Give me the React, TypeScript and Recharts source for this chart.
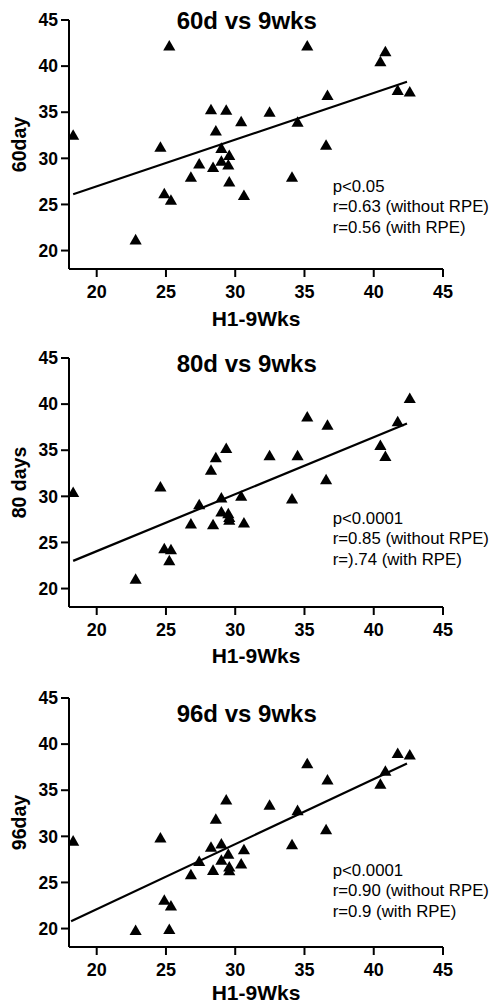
import React from 'react';
import { ScatterChart, Scatter, XAxis, YAxis, ZAxis } from 'recharts';

// H1-9Wks values (shared x for all three panels)
const H1_9WKS = [
  18.3, 22.81, 24.6, 24.88, 25.24, 25.36, 26.8, 27.4, 28.25, 28.4,
  28.6, 29.0, 29.0, 29.35, 29.5, 29.57, 29.57, 30.43, 30.63, 32.48,
  34.1, 34.5, 35.2, 36.56, 36.66, 40.48, 40.84, 41.73, 42.6,
];

const DAY60 = [
  32.4, 21.05, 31.1, 26.06, 42.06, 25.34, 27.83, 29.28, 35.16, 28.9,
  32.85, 30.97, 29.57, 35.1, 29.17, 30.2, 27.33, 33.86, 25.85, 34.9,
  27.83, 33.8, 42.06, 31.3, 36.7, 40.36, 41.44, 37.26, 37.08,
];

const DAY80 = [
  30.3, 20.9, 30.9, 24.2, 22.9, 24.1, 26.9, 28.97, 32.73, 26.8,
  34.07, 29.7, 28.2, 35.08, 28.0, 27.6, 27.3, 29.9, 27.0, 34.3,
  29.6, 34.3, 38.5, 31.7, 37.6, 35.4, 34.2, 37.97, 40.5,
];

const DAY96 = [
  29.37, 19.68, 29.7, 22.95, 19.78, 22.34, 25.73, 27.17, 28.7, 26.2,
  31.75, 29.05, 27.3, 33.84, 27.96, 26.56, 26.16, 26.9, 28.43, 33.26,
  28.97, 32.68, 37.77, 30.6, 36.0, 35.53, 36.94, 38.88, 38.7,
];

// regression line end points [x0, x1] and fitted [y0, y1]
const FIT_X60 = [18.3, 42.4];
const FIT_Y60 = [26.1, 38.3];
const FIT_X80 = [18.3, 42.4];
const FIT_Y80 = [23.0, 37.9];
const FIT_X96 = [18.15, 42.4];
const FIT_Y96 = [20.8, 37.9];

const TICKS = [20, 25, 30, 35, 40, 45];
const DOMAIN: [number, number] = [18, 45];

const TITLES = ['60d vs 9wks', '80d vs 9wks', '96d vs 9wks'];
const Y_LABELS = ['60day', '80 days', '96day'];
const X_LABEL = 'H1-9Wks';
const ANNOTATIONS = [
  ['p<0.05', 'r=0.63 (without RPE)', 'r=0.56 (with RPE)'],
  ['p<0.0001', 'r=0.85 (without RPE)', 'r=).74 (with RPE)'],
  ['p<0.0001', 'r=0.90 (without RPE)', 'r=0.9 (with RPE)'],
];

const FONT = 'Arial, "Liberation Sans", Helvetica, sans-serif';

const toPoints = (xs: number[], ys: number[]) => xs.map((x, i) => ({ x, y: ys[i] }));

type PanelProps = {
  top: number;
  height: number;
  plotTop: number;
  plotBottom: number;
  ys: number[];
  fitX: number[];
  fitY: number[];
};

function Panel({ top, height, plotTop, plotBottom, ys, fitX, fitY }: PanelProps) {
  const data = toPoints(H1_9WKS, ys);
  const fit = toPoints(fitX, fitY);
  return (
    <div style={{ position: 'absolute', left: 0, top, width: 493, height }}>
      <ScatterChart
        width={493}
        height={height}
        margin={{ top: plotTop, right: 50, bottom: 0, left: 0 }}
      >
        <XAxis
          type="number"
          dataKey="x"
          domain={DOMAIN}
          ticks={TICKS}
          allowDataOverflow
          height={height - plotBottom}
          tickSize={8}
          tickMargin={8}
          axisLine={{ stroke: '#000', strokeWidth: 2 }}
          tickLine={{ stroke: '#000', strokeWidth: 2 }}
          tick={{ fill: '#000', fontSize: 18, fontWeight: 'bold', fontFamily: FONT }}
        />
        <YAxis
          type="number"
          dataKey="y"
          domain={DOMAIN}
          ticks={TICKS}
          allowDataOverflow
          width={69}
          tickSize={8}
          tickMargin={3}
          axisLine={{ stroke: '#000', strokeWidth: 2 }}
          tickLine={{ stroke: '#000', strokeWidth: 2 }}
          tick={{ fill: '#000', fontSize: 17.5, fontWeight: 'bold', fontFamily: FONT }}
        />
        <ZAxis range={[52, 52]} />
        <Scatter
          data={fit}
          line={{ stroke: '#000', strokeWidth: 2.2 }}
          shape={() => <g />}
          isAnimationActive={false}
          legendType="none"
        />
        <Scatter
          data={data}
          shape="triangle"
          fill="#000"
          isAnimationActive={false}
        />
      </ScatterChart>
    </div>
  );
}

const PANELS = [
  { top: 0, height: 335, plotTop: 20, plotBottom: 269, ys: DAY60, fitX: FIT_X60, fitY: FIT_Y60 },
  { top: 330, height: 340, plotTop: 28, plotBottom: 277, ys: DAY80, fitX: FIT_X80, fitY: FIT_Y80 },
  { top: 660, height: 347, plotTop: 38, plotBottom: 287, ys: DAY96, fitX: FIT_X96, fitY: FIT_Y96 },
];

// absolute text positions (page coordinates)
const TITLE_BASE = [28.5, 371.8, 721.8];
const YLABEL_CENTER = [144.5, 482.5, 822.5];
const XLABEL_BASE = [326, 663, 1000];
const ANNOT_BASE = [192, 524, 876];

export default function App() {
  return (
    <div style={{ position: 'absolute', left: 0, top: 0, width: 493, height: 1007, background: '#fff' }}>
      {PANELS.map((p, i) => (
        <Panel key={i} {...p} />
      ))}
      <svg
        width={493}
        height={1007}
        style={{ position: 'absolute', left: 0, top: 0, pointerEvents: 'none' }}
      >
        {TITLES.map((t, i) => (
          <text
            key={'t' + i}
            x={246.7}
            y={TITLE_BASE[i]}
            textAnchor="middle"
            fontFamily={FONT}
            fontWeight="bold"
            fontSize={24}
            fill="#000"
          >
            {t}
          </text>
        ))}
        {Y_LABELS.map((t, i) => (
          <text
            key={'y' + i}
            x={26}
            y={YLABEL_CENTER[i]}
            textAnchor="middle"
            fontFamily={FONT}
            fontWeight="bold"
            fontSize={19.5}
            fill="#000"
            transform={`rotate(-90, 26, ${YLABEL_CENTER[i]})`}
          >
            {t}
          </text>
        ))}
        {XLABEL_BASE.map((b, i) => (
          <text
            key={'x' + i}
            x={256}
            y={b}
            textAnchor="middle"
            fontFamily={FONT}
            fontWeight="bold"
            fontSize={21}
            fill="#000"
          >
            {X_LABEL}
          </text>
        ))}
        {ANNOTATIONS.map((lines, i) =>
          lines.map((l, j) => (
            <text
              key={'a' + i + '-' + j}
              x={332.7}
              y={ANNOT_BASE[i] + j * 20.3}
              fontFamily={FONT}
              fontSize={16.8}
              fill="#000"
            >
              {l}
            </text>
          ))
        )}
      </svg>
    </div>
  );
}
